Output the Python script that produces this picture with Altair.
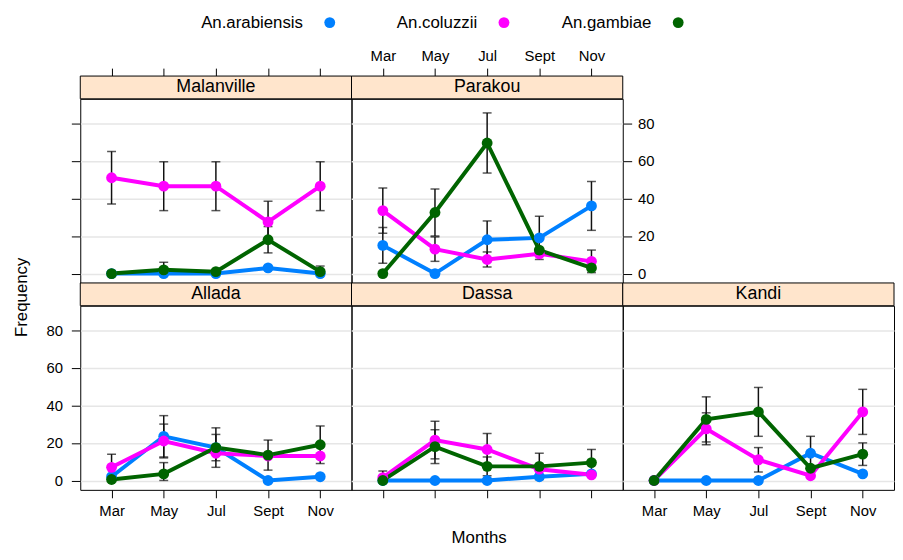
import altair as alt
import pandas as pd

months = ["Mar", "May", "Jul", "Sept", "Nov"]
species = ["An.arabiensis", "An.coluzzii", "An.gambiae"]
sites = ["Malanville", "Parakou", "Allada", "Dassa", "Kandi"]
colors = ["#0080FF", "#FF00FF", "#006400"]
y_ticks = [0, 20, 40, 60, 80]

# mean frequency by month (Mar, May, Jul, Sept, Nov)
malanville_arabiensis = [0, 0, 0, 3, 0]
malanville_coluzzii = [51, 46.5, 46.5, 27.5, 46.5]
malanville_gambiae = [0, 2, 1, 18, 1]
parakou_arabiensis = [15, 0, 18, 19, 36]
parakou_coluzzii = [33.5, 13, 7.5, 10.5, 6.5]
parakou_gambiae = [0, 32.5, 69.5, 12.5, 3]
allada_arabiensis = [2, 23.5, 17.5, 0, 2]
allada_coluzzii = [7, 21, 14.5, 13, 13]
allada_gambiae = [0.5, 3.5, 17.5, 13.5, 19]
dassa_arabiensis = [0, 0, 0, 2, 3.5]
dassa_coluzzii = [1.5, 21.5, 16.5, 6, 3]
dassa_gambiae = [0, 18, 7.5, 7.5, 9.5]
kandi_arabiensis = [0, 0, 0, 14.5, 3.5]
kandi_coluzzii = [0, 27.5, 11, 2.5, 36.5]
kandi_gambiae = [0, 32.5, 36.5, 6.5, 14]

# error-bar half widths
malanville_arabiensis_err = [0, 0, 0, 0, 0]
malanville_coluzzii_err = [14, 13, 13, 11, 13]
malanville_gambiae_err = [0, 4, 0, 7, 3]
parakou_arabiensis_err = [9.5, 0, 10, 11.5, 13]
parakou_coluzzii_err = [12, 6.5, 4, 0, 6]
parakou_gambiae_err = [0, 12.5, 16, 0, 0]
allada_arabiensis_err = [0, 11, 10.5, 0, 0]
allada_coluzzii_err = [7, 9, 0, 0, 0]
allada_gambiae_err = [0, 6, 7, 8, 10]
dassa_arabiensis_err = [0, 0, 0, 0, 0]
dassa_coluzzii_err = [3.5, 10, 8.5, 0, 0]
dassa_gambiae_err = [0, 9, 5, 7, 7]
kandi_arabiensis_err = [0, 0, 0, 9, 0]
kandi_coluzzii_err = [0, 8.5, 6.5, 0, 12]
kandi_gambiae_err = [0, 12, 13, 0, 6]

values = {
    "Malanville": (malanville_arabiensis, malanville_coluzzii, malanville_gambiae),
    "Parakou": (parakou_arabiensis, parakou_coluzzii, parakou_gambiae),
    "Allada": (allada_arabiensis, allada_coluzzii, allada_gambiae),
    "Dassa": (dassa_arabiensis, dassa_coluzzii, dassa_gambiae),
    "Kandi": (kandi_arabiensis, kandi_coluzzii, kandi_gambiae),
}
errors = {
    "Malanville": (malanville_arabiensis_err, malanville_coluzzii_err, malanville_gambiae_err),
    "Parakou": (parakou_arabiensis_err, parakou_coluzzii_err, parakou_gambiae_err),
    "Allada": (allada_arabiensis_err, allada_coluzzii_err, allada_gambiae_err),
    "Dassa": (dassa_arabiensis_err, dassa_coluzzii_err, dassa_gambiae_err),
    "Kandi": (kandi_arabiensis_err, kandi_coluzzii_err, kandi_gambiae_err),
}

rows = []
for site in sites:
    for sp, vals, errs in zip(species, values[site], errors[site]):
        for i, (m, v, e) in enumerate(zip(months, vals, errs)):
            rows.append(dict(site=site, species=sp, month=m, mi=i, value=v,
                             err=e, lo=max(v - e, 0), hi=v + e))
df = pd.DataFrame(rows)

W, H, STRIP = 274, 186, 23
FONT = "Liberation Sans"
xscale = alt.Scale(domain=months, type="point", padding=0.6)
yscale = alt.Scale(domain=[-5, 93], nice=False, zero=False)
cscale = alt.Scale(domain=species, range=colors)

ax_x_top_nolab = alt.Axis(orient="top", offset=STRIP, labels=False, tickSize=8, grid=False)
ax_x_top_lab = alt.Axis(orient="top", offset=STRIP, tickSize=8, labelPadding=5, grid=False, labelAngle=0)
ax_x_bot_lab = alt.Axis(orient="bottom", tickSize=8, labelPadding=6, grid=False, labelAngle=0)
ax_x_bot_nolab = alt.Axis(orient="bottom", tickSize=8, labels=False, grid=False)
ax_y_left_nolab = alt.Axis(orient="left", values=y_ticks, tickSize=9, labels=False, grid=True)
ax_y_right_lab = alt.Axis(orient="right", values=y_ticks, tickSize=9, labelPadding=6, grid=True)
ax_y_left_lab = alt.Axis(orient="left", values=y_ticks, tickSize=9, labelPadding=9, grid=True,
                         titleY=-9, titlePadding=16)
ax_y_grid = alt.Axis(orient="left", values=y_ticks, ticks=False, labels=False, grid=True)


def panel(site, xaxis, yaxis, ytitle=None, legend=False):
    d = df[df.site == site]
    e = d[d.err > 0]
    x = alt.X("month:N", scale=xscale, sort=months, axis=xaxis, title=None)
    if ytitle:
        def Y(f):
            return alt.Y(f, scale=yscale, axis=yaxis, title=ytitle)
    else:
        def Y(f):
            return alt.Y(f, scale=yscale, axis=yaxis, title=None)
    color = alt.Color("species:N", scale=cscale, legend=None)

    rules = alt.Chart(e).mark_rule(color="#111111", strokeWidth=1.5).encode(
        x=x, y=Y("lo:Q"), y2="hi:Q")
    caps_hi = alt.Chart(e).mark_tick(color="#111111", thickness=1.5, size=9,
                                     orient="horizontal").encode(x=x, y=Y("hi:Q"))
    caps_lo = alt.Chart(e).mark_tick(color="#111111", thickness=1.5, size=9,
                                     orient="horizontal").encode(x=x, y=Y("lo:Q"))
    lines = alt.Chart(d).mark_line(strokeWidth=4).encode(
        x=x, y=Y("value:Q"), color=color, order="mi:Q")
    pts = alt.Chart(d).mark_point(filled=True, size=120, opacity=1).encode(
        x=x, y=Y("value:Q"), color=color)

    sdf = pd.DataFrame({"site": [site]})
    strip = alt.Chart(sdf).mark_rect(fill="#FFE5CC", stroke="black", strokeWidth=1).encode(
        x=alt.value(0), x2=alt.value(W), y=alt.value(-STRIP), y2=alt.value(0))
    label = alt.Chart(sdf).mark_text(fontSize=18, font=FONT, color="black").encode(
        text="site:N", x=alt.value(W / 2), y=alt.value(-STRIP / 2))

    main = alt.layer(strip, label, rules, caps_hi, caps_lo, lines, pts)
    if not legend:
        return main.properties(width=W, height=H)

    ldf = pd.DataFrame({"species": species})
    lx = alt.X("species:N", scale=alt.Scale(domain=species, type="point", range=[252, 604], padding=0),
               axis=None)
    ldots = alt.Chart(ldf).mark_point(filled=True, size=120, opacity=1).encode(
        x=lx, y=alt.value(-77), color=color)
    ltext = alt.Chart(ldf).mark_text(align="right", dx=-27, fontSize=17, font=FONT,
                                     color="black").encode(
        x=lx, y=alt.value(-77), text="species:N")
    return alt.layer(main, ldots, ltext).resolve_scale(x="independent").properties(
        width=W, height=H)


p_mal = panel("Malanville", ax_x_top_nolab, ax_y_left_nolab, legend=True)
p_par = panel("Parakou", ax_x_top_lab, ax_y_right_lab)
blank = alt.Chart(pd.DataFrame({"a": [0]})).mark_point(opacity=0).properties(
    width=W, height=H, view=alt.ViewBackground(stroke="transparent"))
p_all = panel("Allada", ax_x_bot_lab, ax_y_left_lab, ytitle="Frequency")
p_das = panel("Dassa", ax_x_bot_nolab, ax_y_grid)
p_kan = panel("Kandi", ax_x_bot_lab, ax_y_grid)

chart = alt.concat(
    p_mal, p_par, blank, p_all, p_das, p_kan,
    columns=3, spacing={"row": STRIP, "column": 0}, bounds="flush", align="all",
).properties(
    padding={"left": 3, "top": 2, "right": 0, "bottom": 0},
    title=alt.TitleParams("Months", orient="bottom", anchor="middle", fontSize=17,
                          fontWeight="normal", font=FONT, color="black", offset=11, dx=26),
).configure_view(
    stroke="black", strokeWidth=1
).configure_axis(
    labelFont=FONT, labelFontSize=15, labelColor="black", tickColor="black", tickWidth=1,
    domain=False, gridColor="#E6E6E6", gridWidth=1.5,
    titleFont=FONT, titleFontSize=17, titleFontWeight="normal", titleColor="black",
)

chart.save("out.html", embed_options={"renderer": "svg", "actions": False})
